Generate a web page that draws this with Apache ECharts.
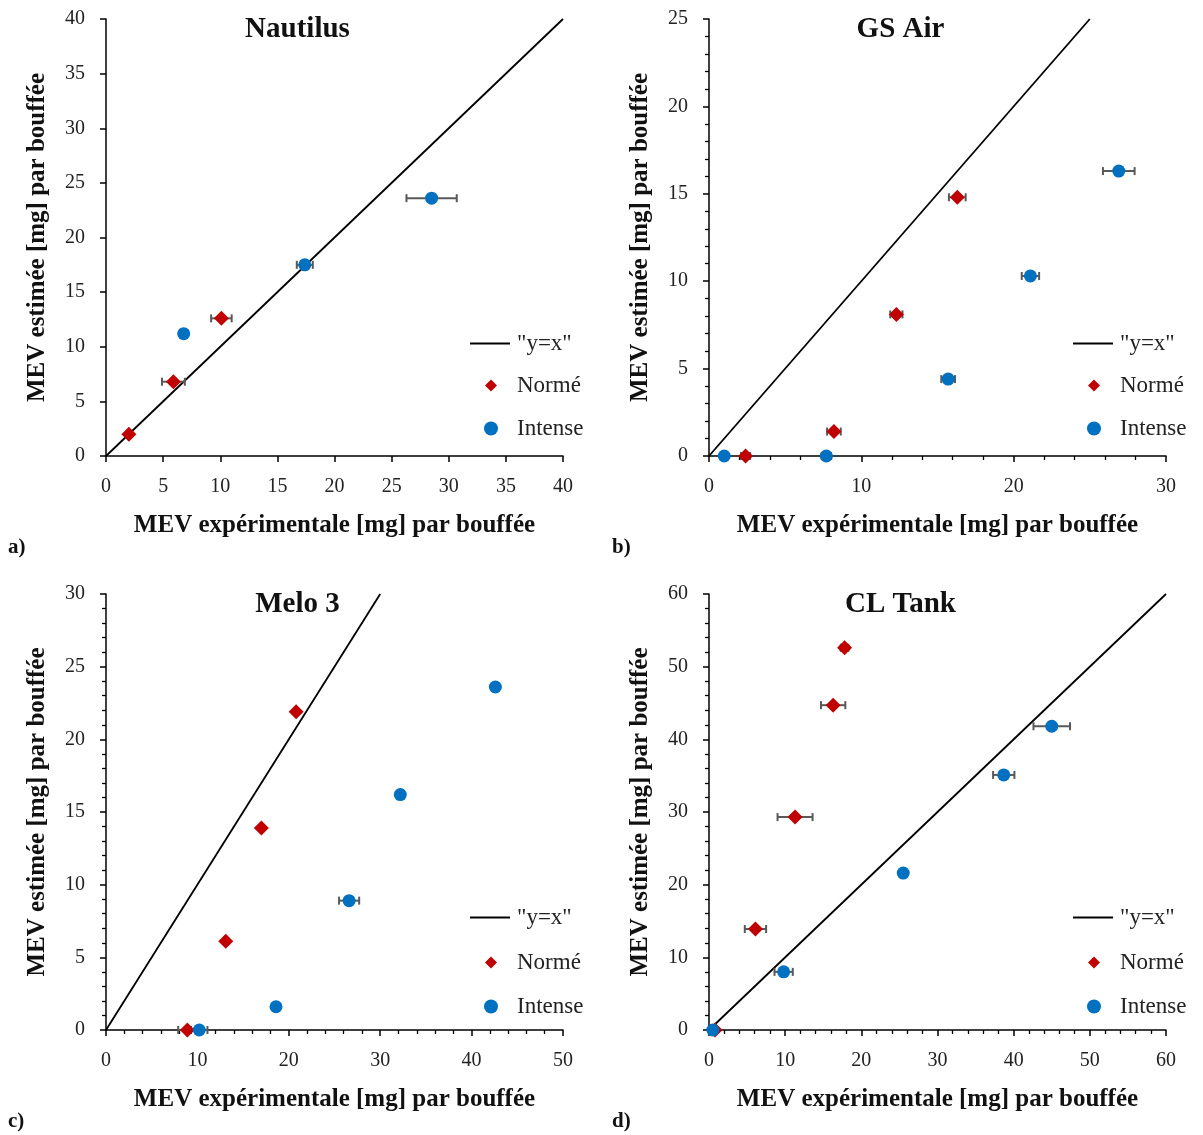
<!DOCTYPE html>
<html>
<head>
<meta charset="utf-8">
<script src="https://cdn.jsdelivr.net/npm/echarts@6/dist/echarts.min.js"></script>
<style>html,body{margin:0;padding:0;background:#fff}#c{width:1203px;height:1135px}</style>
</head>
<body>
<div id="c"></div>
<script>
// ---- Data ----
const titles = ['Nautilus', 'GS Air', 'Melo 3', 'CL Tank'];
const panelTags = ['a)', 'b)', 'c)', 'd)'];
const xTitle = 'MEV expérimentale [mg] par bouffée';
const yTitle = 'MEV estimée [mg] par bouffée';

// axis ranges [max, interval]
const xMax = [40, 30, 50, 60];
const xStep = [5, 10, 10, 10];
const yMax = [40, 25, 30, 60];
const yStep = [5, 5, 5, 10];

// Nautilus
const normA_x = [2.0, 5.9, 10.1];
const normA_y = [2.0, 6.8, 12.6];
const normA_e = [0.0, 1.0, 0.9];
const intA_x = [6.8, 17.4, 28.5];
const intA_y = [11.2, 17.5, 23.6];
const intA_e = [0.0, 0.7, 2.2];
// GS Air
const normB_x = [2.4, 8.2, 12.3, 16.3];
const normB_y = [0.0, 1.4, 8.1, 14.8];
const normB_e = [0.3, 0.45, 0.4, 0.55];
const intB_x = [1.0, 7.7, 15.7, 21.1, 26.9];
const intB_y = [0.0, 0.0, 4.4, 10.3, 16.3];
const intB_e = [0.0, 0.3, 0.45, 0.57, 1.04];
// Melo 3
const normC_x = [8.9, 13.1, 17.0, 20.8];
const normC_y = [0.0, 6.1, 13.9, 21.9];
const normC_e = [1.0, 0.0, 0.0, 0.0];
const intC_x = [10.2, 18.6, 26.6, 32.2, 42.6];
const intC_y = [0.0, 1.6, 8.9, 16.2, 23.6];
const intC_e = [0.9, 0.0, 1.1, 0.0, 0.0];
// CL Tank
const normD_x = [0.8, 6.1, 11.3, 16.3, 17.8];
const normD_y = [0.0, 13.9, 29.3, 44.7, 52.6];
const normD_e = [0.0, 1.4, 2.3, 1.6, 0.5];
const intD_x = [0.5, 9.8, 25.5, 38.7, 45.0];
const intD_y = [0.0, 8.0, 21.6, 35.1, 41.8];
const intD_e = [0.0, 1.2, 0.0, 1.4, 2.4];

const normX = [normA_x, normB_x, normC_x, normD_x];
const normY = [normA_y, normB_y, normC_y, normD_y];
const normE = [normA_e, normB_e, normC_e, normD_e];
const intX = [intA_x, intB_x, intC_x, intD_x];
const intY = [intA_y, intB_y, intC_y, intD_y];
const intE = [intA_e, intB_e, intC_e, intD_e];

// ---- Layout ----
const FONT = '"Liberation Serif", "DejaVu Serif", serif';
const grids = [
  {left: 106, top: 19, width: 457, height: 437},
  {left: 709, top: 19, width: 457, height: 437},
  {left: 106, top: 594, width: 457, height: 436},
  {left: 709, top: 594, width: 457, height: 436}
];
const minorOn = [false, true, true, true];
const RED = '#C00000', BLUE = '#0070C0';

function zip3(a, b, c) { return a.map((v, i) => [v, b[i], c[i]]); }

const errRender = function (params, api) {
  const x = api.value(0), y = api.value(1), e = api.value(2);
  if (!e) return null;
  const p1 = api.coord([x - e, y]);
  const p2 = api.coord([x + e, y]);
  const h = 4;
  const st = {stroke: '#595959', lineWidth: 2};
  return {
    type: 'group',
    children: [
      {type: 'line', shape: {x1: p1[0], y1: p1[1], x2: p2[0], y2: p2[1]}, style: st},
      {type: 'line', shape: {x1: p1[0], y1: p1[1] - h, x2: p1[0], y2: p1[1] + h}, style: st},
      {type: 'line', shape: {x1: p2[0], y1: p2[1] - h, x2: p2[0], y2: p2[1] + h}, style: st}
    ]
  };
};

const xAxes = [], yAxes = [], series = [], legends = [], graphics = [];
const axisCommon = (minor) => ({
  type: 'value',
  min: 0,
  splitLine: {show: false},
  axisLine: {show: true, onZero: false, lineStyle: {color: '#000', width: 1.5}},
  axisTick: {show: true, inside: false, length: 6, lineStyle: {color: '#000', width: 1.5}},
  minorTick: {show: minor, splitNumber: 5, length: 4, lineStyle: {color: '#000', width: 1.3}},
  minorSplitLine: {show: false},
  nameLocation: 'middle',
  nameTextStyle: {fontFamily: FONT, fontWeight: 'bold', fontSize: 25, color: '#111'}
});

for (let i = 0; i < 4; i++) {
  const g = grids[i];
  xAxes.push(Object.assign(axisCommon(minorOn[i]), {
    gridIndex: i, max: xMax[i], interval: xStep[i],
    name: xTitle, nameGap: 57,
    axisLabel: {fontFamily: FONT, fontSize: 20, color: '#222', margin: 21}
  }));
  yAxes.push(Object.assign(axisCommon(minorOn[i]), {
    gridIndex: i, max: yMax[i], interval: yStep[i],
    name: yTitle, nameGap: 56,
    axisLabel: {fontFamily: FONT, fontSize: 20, color: '#222', margin: 21}
  }));

  series.push({
    name: '"y=x"', type: 'line', xAxisIndex: i, yAxisIndex: i,
    data: [[0, 0], [yMax[i], yMax[i]]],
    symbol: 'none', silent: true, z: 1,
    itemStyle: {color: '#000'},
    lineStyle: {color: '#000', width: 1.8}
  });
  series.push({
    name: 'errN' + i, type: 'custom', xAxisIndex: i, yAxisIndex: i,
    data: zip3(normX[i], normY[i], normE[i]), encode: {x: 0, y: 1},
    renderItem: errRender, z: 2, silent: true
  });
  series.push({
    name: 'errI' + i, type: 'custom', xAxisIndex: i, yAxisIndex: i,
    data: zip3(intX[i], intY[i], intE[i]), encode: {x: 0, y: 1},
    renderItem: errRender, z: 2, silent: true
  });
  series.push({
    name: 'Normé', type: 'scatter', xAxisIndex: i, yAxisIndex: i,
    data: normX[i].map((v, k) => [v, normY[i][k]]),
    symbol: 'diamond', symbolSize: 15, z: 3,
    itemStyle: {color: RED, opacity: 1}
  });
  series.push({
    name: 'Intense', type: 'scatter', xAxisIndex: i, yAxisIndex: i,
    data: intX[i].map((v, k) => [v, intY[i][k]]),
    symbol: 'circle', symbolSize: 13, z: 3,
    itemStyle: {color: BLUE, opacity: 1}
  });

  // legend (three stacked single-item legends per panel)
  const lx = g.left + g.width - 93;      // line start
  const cx = lx + 21;                     // symbol center
  const y0 = (i < 2) ? 344 : 918;
  const dy = (i < 2) ? [0, 42, 85] : [0, 45, 89];
  const lt = {fontFamily: FONT, fontSize: 23, color: '#222'};
  legends.push({data: [{name: '"y=x"', icon: 'rect', itemStyle: {color: '#000'}}], left: lx, top: y0 + dy[0] - 12, itemWidth: 40, itemHeight: 2,
    padding: 0, selectedMode: false, itemStyle: {color: '#000'}, textStyle: Object.assign({padding: [0, 0, 0, 2]}, lt)});
  legends.push({data: [{name: 'Normé', icon: 'diamond'}], left: cx - 6, top: y0 + dy[1] - 12, itemWidth: 12, itemHeight: 12,
    padding: 0, selectedMode: false, textStyle: Object.assign({padding: [0, 0, 0, 15]}, lt)});
  legends.push({data: [{name: 'Intense', icon: 'circle'}], left: cx - 7, top: y0 + dy[2] - 12, itemWidth: 14, itemHeight: 14,
    padding: 0, selectedMode: false, textStyle: Object.assign({padding: [0, 0, 0, 14]}, lt)});

  graphics.push({
    type: 'text', x: g.left + g.width / 2 - 37, y: g.top + 11,
    style: {text: titles[i], font: 'bold 29px ' + FONT, fill: '#111', textAlign: 'center', textVerticalAlign: 'middle'}
  });
  graphics.push({
    type: 'text', x: (i % 2 === 0) ? 8 : 612, y: (i < 2) ? 548 : 1122,
    style: {text: panelTags[i], font: 'bold 21px ' + FONT, fill: '#111', textAlign: 'left', textVerticalAlign: 'middle'}
  });
}

const chart = echarts.init(document.getElementById('c'), null, {renderer: 'canvas'});
chart.setOption({
  animation: false,
  backgroundColor: '#fff',
  grid: grids.map(g => Object.assign({containLabel: false, outerBoundsMode: 'none'}, g)),
  xAxis: xAxes,
  yAxis: yAxes,
  legend: legends,
  series: series,
  graphic: graphics
});
</script>
</body>
</html>
